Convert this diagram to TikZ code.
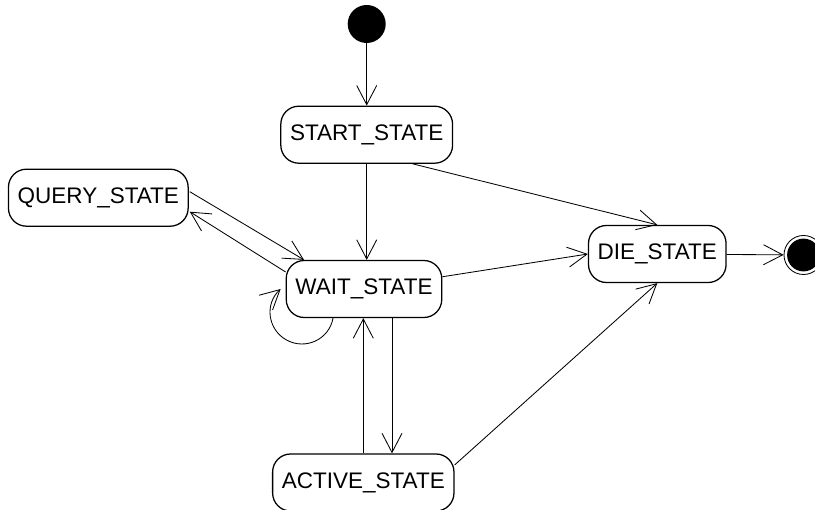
\documentclass[tikz,border=0pt]{standalone}
\usepackage{fontspec}
\setmainfont{Liberation Sans}
\usetikzlibrary{calc,arrows.meta}
\tikzset{
	state/.style={draw, line width=0.9pt, rounded corners=0.45cm, minimum height=1.425cm, inner xsep=0.23cm, font=\fontsize{16}{19}\selectfont},
	trans/.style={line width=0.6pt, -{Straight Barb[length=0.48cm, width=0.5cm]}}
}

\begin{document}
\begin{tikzpicture}[x=0.025cm, y=-0.025cm]
		%%%%% START %%%%%
		
		\path[use as bounding box, fill=white] (0, 0) rectangle (815, 510);
		
		\node[circle, fill=black, minimum size=0.95cm, inner sep=0pt] (init) at (366.7, 24) {};
		\node[circle, draw, line width=0.6pt, minimum size=0.975cm, inner sep=0pt] (final) at (803.5, 255) {};
		\fill[black] (final) circle (0.41cm);
		
		\node[state] (start) at (366.7, 134.7) {START\_STATE};
		\node[state] (query) at (98.3, 197.7) {QUERY\_STATE};
		\node[state] (wait) at (364, 289) {WAIT\_STATE};
		\node[state] (die) at (657.3, 254) {DIE\_STATE};
		\node[state] (active) at (363.3, 482.5) {ACTIVE\_STATE};
		
		\draw[trans] (init) -- (start);
		\draw[trans] (start.south) -- (start.south |- wait.north);
		\draw[trans] ($(start.south)+(46, 0)$) -- (die.north);
		
		\draw[trans] ($(query.east)+(1, -6)$) -- ($(wait.north)+(-60, 0)$);
		\draw[trans] ($(wait.west)+(0, -17)$) -- ($(query.east)+(1, 14)$);
		
		\draw[trans] (wait) -- (die.west);
		\coordinate (waitout) at ($(wait.south)+(28, 0)$);
		\draw[trans] (waitout) -- (waitout |- active.north);
		\draw[trans] (active.north) -- (active.north |- wait.south);
		\draw[trans] ($(active.east)+(0, -17.5)$) -- (die.south);
		
		\draw[trans] (die) -- (final);
		
		\coordinate (loopmid) at (286.7, 340.1);
		\draw[trans] ($(wait.south)+(-31, 0)$) .. controls (329.3, 339.3) and (305.7, 350.4) .. (loopmid) .. controls (267.7, 329.8) and (264.3, 304.0) .. ($(wait.west)+(-5, 0)$);
		
		%%%%% END %%%%%
	\end{tikzpicture}
\end{document}
